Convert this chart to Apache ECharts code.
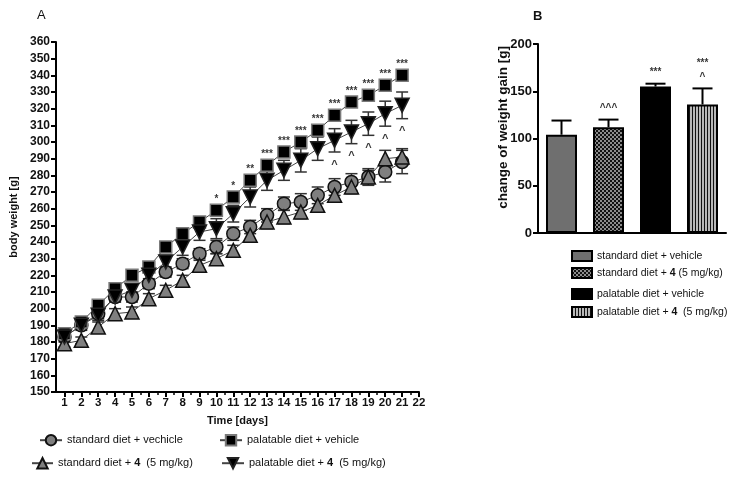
<!DOCTYPE html>
<html>
<head>
<meta charset="utf-8">
<script src="https://cdn.jsdelivr.net/npm/echarts@6/dist/echarts.min.js"></script>
<style>
html,body{margin:0;padding:0;background:#fff;}
#a{position:absolute;left:0;top:0;width:470px;height:480px;}
#b{position:absolute;left:470px;top:0;width:265px;height:480px;}
</style>
</head>
<body>
<div id="a"></div>
<div id="b"></div>
<script>
// ---------- DATA ----------
const days = [1,2,3,4,5,6,7,8,9,10,11,12,13,14,15,16,17,18,19,20,21];
const xTicks = [1,2,3,4,5,6,7,8,9,10,11,12,13,14,15,16,17,18,19,20,21,22];
const stdVeh    = [183,190,197,207,207,215,222,227,233,237,245,249,256,263,264,268,273,276,279,282,288];
const stdVehErr = [3,3,3,3,3,3,3,3,3,4,4,4,4,4,5,5,5,5,5,6,7];
const std4      = [179,181,189,197,198,206,211,217,226,230,235,244,252,255,258,262,268,273,279,290,291];
const std4Err   = [2,2,3,3,3,3,3,3,3,3,3,4,4,4,4,4,4,4,4,5,5];
const palVeh    = [185,192,202,212,220,225,237,245,252,259,267,277,286,294,300,307,316,324,328,334,340];
const palVehErr = [2,2,2,2,2,2,2,2,2,3,3,3,3,3,3,3,3,3,3,3,3];
const pal4      = [183,190,196,207,211,220,228,237,246,248,257,267,277,283,289,296,301,306,311,317,322];
const pal4Err   = [2,2,3,3,3,4,4,5,5,6,5,6,6,6,7,7,7,7,7,7.5,8];
const starsPal  = ['','','','','','','','','','*','*','**','***','***','***','***','***','***','***','***','***'];
const caretPal4 = ['','','','','','','','','','','','','','','','','^','^','^','^','^'];

const namesA = ['standard diet + vechicle','standard diet + 4  (5 mg/kg)','palatable diet + vehicle','palatable diet + 4  (5 mg/kg)'];

const barCats = ['standard diet + vehicle','standard diet + 4 (5 mg/kg)','palatable diet + vehicle','palatable diet + 4  (5 mg/kg)'];
const barVals = [104,112,155,136];
const barErr  = [15,8,3,17];
const barSig  = ['','^^^','***','***\n^'];

const FONT = '"Liberation Sans", Arial, Helvetica, sans-serif';

// ---------- helpers ----------
function errRender(capHalf, lw, color, upperOnly){
  return function(params, api){
    const x = api.value(0), v = api.value(1), e = api.value(2);
    const top = api.coord([x, v + e]);
    const bot = api.coord([x, upperOnly ? v : v - e]);
    const st = {stroke: color, lineWidth: lw};
    const ch = [
      {type:'line', shape:{x1:top[0],y1:top[1],x2:bot[0],y2:bot[1]}, style:st},
      {type:'line', shape:{x1:top[0]-capHalf,y1:top[1],x2:top[0]+capHalf,y2:top[1]}, style:st}
    ];
    if(!upperOnly) ch.push({type:'line', shape:{x1:bot[0]-capHalf,y1:bot[1],x2:bot[0]+capHalf,y2:bot[1]}, style:st});
    return {type:'group', children:ch};
  };
}
function zip(vals, errs){ return days.map((d,i)=>[d, vals[i], errs[i]]); }
function pts(vals){ return days.map((d,i)=>[d, vals[i]]); }

// ---------- Chart A ----------
const ca = echarts.init(document.getElementById('a'), null, {renderer:'canvas'});
const mk = [
  {name:namesA[0], data:stdVeh, err:stdVehErr, symbol:'circle', size:13, rot:0, fill:'#7f7f7f', border:'#111'},
  {name:namesA[1], data:std4, err:std4Err, symbol:'triangle', size:14, rot:0, fill:'#7f7f7f', border:'#111'},
  {name:namesA[2], data:palVeh, err:palVehErr, symbol:'rect', size:12, rot:0, fill:'#000', border:'#7a7a7a'},
  {name:namesA[3], data:pal4, err:pal4Err, symbol:'triangle', size:14, rot:180, fill:'#000', border:'#222'}
];
const seriesA = [];
mk.forEach(m=>{
  seriesA.push({type:'custom', renderItem: errRender(6, 1.5, '#333', false), data: zip(m.data, m.err), z:1, silent:true, xAxisIndex:0});
});
mk.forEach(m=>{
  seriesA.push({type:'line', name:m.name, data:pts(m.data), symbol:m.symbol, symbolSize:m.size, symbolRotate:m.rot,
    showAllSymbol:true, z:3, xAxisIndex:0,
    itemStyle:{color:m.fill, borderColor:m.border, borderWidth:1.5},
    lineStyle:{color:'#444', width:1}});
});
seriesA.push({type:'scatter', symbolSize:0, z:5, silent:true, xAxisIndex:0,
  data: days.map((d,i)=>[d, palVeh[i]+palVehErr[i], starsPal[i]]).filter(p=>p[2]),
  label:{show:true, position:'top', distance:1, formatter:p=>p.value[2], fontSize:10, fontWeight:'bold', color:'#000', fontFamily:FONT}});
seriesA.push({type:'scatter', symbolSize:0, z:5, silent:true, xAxisIndex:0,
  data: days.map((d,i)=>[d, pal4[i]-pal4Err[i], caretPal4[i]]).filter(p=>p[2]),
  label:{show:true, position:'bottom', distance:7, formatter:p=>p.value[2], fontSize:11, fontWeight:'bold', color:'#000', fontFamily:FONT}});

function legA(name, left, top, w){
  return {data:[name], left:left, top:top, padding:0, itemWidth:w, itemHeight:13, selectedMode:false,
    textStyle:{fontSize:11, color:'#111', fontFamily:FONT, rich:{b:{fontWeight:'bold', fontSize:11, fontFamily:FONT}}},
    formatter: n => n.replace('+ 4', '+ {b|4}')};
}

ca.setOption({
  animation:false,
  textStyle:{fontFamily:FONT},
  title:{text:'A', left:37, top:9, padding:0, textStyle:{fontSize:13, fontWeight:'normal', color:'#111', fontFamily:FONT}},
  grid:{left:50, top:42, width:369, height:350},
  legend:[
    legA(namesA[0], 39, 434, 22),
    legA(namesA[2], 219, 434, 22),
    legA(namesA[1], 31, 457, 21),
    legA(namesA[3], 221, 457, 22)
  ],
  xAxis:[
    {type:'value', min:0.5, max:22, position:'bottom',
     name:'Time [days]', nameLocation:'middle', nameGap:23,
     nameTextStyle:{fontSize:11, fontWeight:'bold', color:'#111', fontFamily:FONT},
     axisLine:{lineStyle:{color:'#000', width:2}},
     axisTick:{customValues:xTicks, length:5, lineStyle:{color:'#000', width:2}},
     axisLabel:{customValues:xTicks, fontSize:11.5, fontWeight:'bold', color:'#111', margin:5, fontFamily:FONT},
     splitLine:{show:false}},
    {type:'value', min:0.5, max:22, position:'bottom',
     axisLine:{show:false},
     axisTick:{customValues:xTicks.slice(0,21).map(v=>v+0.5), length:3, lineStyle:{color:'#000', width:1.5}},
     axisLabel:{show:false}, splitLine:{show:false}}
  ],
  yAxis:{type:'value', min:150, max:360, interval:10,
    name:'body weight [g]', nameLocation:'middle', nameGap:37,
    nameTextStyle:{fontSize:11, fontWeight:'bold', color:'#111', fontFamily:FONT},
    axisLine:{show:true, lineStyle:{color:'#000', width:2}},
    axisTick:{show:true, length:5, lineStyle:{color:'#000', width:2}},
    axisLabel:{fontSize:12, fontWeight:'bold', color:'#111', margin:6, fontFamily:FONT},
    splitLine:{show:false}},
  series: seriesA
});

// ---------- Chart B ----------
function checker(){
  const c=document.createElement('canvas'); c.width=4; c.height=4;
  const g=c.getContext('2d'); g.fillStyle='#8c8c8c'; g.fillRect(0,0,4,4);
  g.fillStyle='#111'; g.fillRect(0,0,2,2); g.fillRect(2,2,2,2); return c;
}
function stripes(){
  const c=document.createElement('canvas'); c.width=3; c.height=2;
  const g=c.getContext('2d'); g.fillStyle='#b8b8b8'; g.fillRect(0,0,3,2);
  g.fillStyle='#111'; g.fillRect(0,0,1,2); return c;
}
const fills = ['#6f6f6f', {image:checker(), repeat:'repeat'}, '#000', {image:stripes(), repeat:'repeat'}];

const cb = echarts.init(document.getElementById('b'), null, {renderer:'canvas'});
const seriesB = barCats.map((n,i)=>({
  type:'bar', name:n, barWidth:31, barGap:'-100%', z:2,
  data: barVals.map((v,j)=> j===i ? v : '-'),
  itemStyle:{color:fills[i], borderColor:'#000', borderWidth:2}
}));
seriesB.push({type:'custom', renderItem: errRender(10, 2, '#000', true), z:1, silent:true,
  data: barVals.map((v,i)=>[i, v, barErr[i]])});
seriesB.push({type:'scatter', symbolSize:0, z:5, silent:true,
  data: barVals.map((v,i)=>[i, v+barErr[i], barSig[i]]).filter(p=>p[2]),
  label:{show:true, position:'top', distance:4, formatter:p=>p.value[2], fontSize:10, fontWeight:'bold', color:'#000', lineHeight:14, fontFamily:FONT}});

function legB(name, top){
  return {data:[{name:name, icon:'rect'}], left:101, top:top, padding:0, itemWidth:20, itemHeight:10, selectedMode:false,
    textStyle:{fontSize:10.5, color:'#111', fontFamily:FONT, rich:{b:{fontWeight:'bold', fontSize:10.5, fontFamily:FONT}}},
    formatter: n => n.replace('+ 4', '+ {b|4}')};
}

cb.setOption({
  animation:false,
  textStyle:{fontFamily:FONT},
  title:{text:'B', left:63, top:10, padding:0, textStyle:{fontSize:13, fontWeight:'bold', color:'#111', fontFamily:FONT}},
  grid:{left:68, top:44, width:188, height:189},
  legend:[legB(barCats[0], 250), legB(barCats[1], 267), legB(barCats[2], 288), legB(barCats[3], 306)],
  xAxis:{type:'category', data:barCats,
    axisLine:{lineStyle:{color:'#000', width:2}},
    axisTick:{alignWithLabel:true, length:5, lineStyle:{color:'#000', width:2}},
    axisLabel:{show:false}, splitLine:{show:false}},
  yAxis:{type:'value', min:0, max:200, interval:50,
    name:'change of weight gain [g]', nameLocation:'middle', nameGap:28, nameMoveOverlap:false,
    nameTextStyle:{fontSize:13.5, fontWeight:'bold', color:'#111', fontFamily:FONT, padding:[0,0,0,22]},
    axisLine:{show:true, lineStyle:{color:'#000', width:2}},
    axisTick:{show:true, length:5, lineStyle:{color:'#000', width:2}},
    axisLabel:{fontSize:13, fontWeight:'bold', color:'#111', margin:6, fontFamily:FONT},
    splitLine:{show:false}},
  series: seriesB
});
</script>
</body>
</html>
